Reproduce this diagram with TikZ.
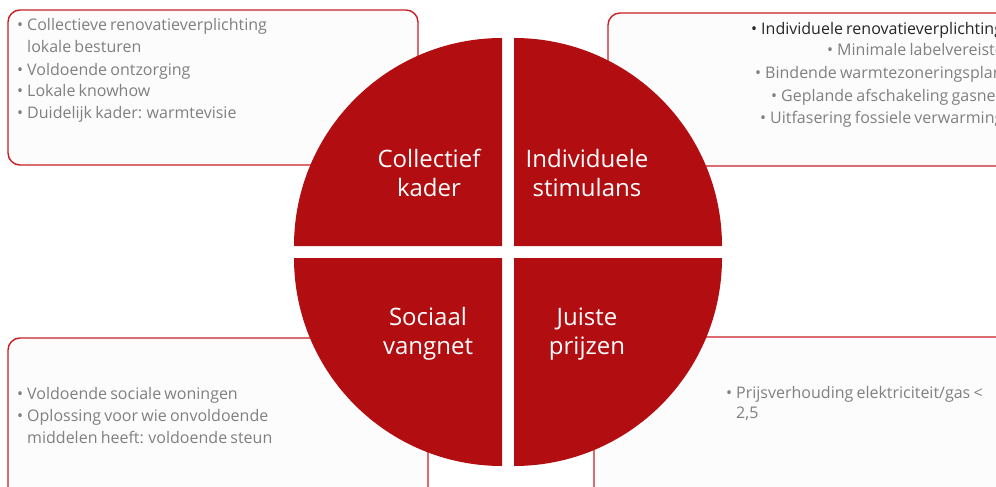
\documentclass[tikz,border=0pt]{standalone}
\usepackage{fontspec}
\setmainfont{Open Sans}
\definecolor{quadred}{RGB}{178,14,17}
\definecolor{boxred}{RGB}{200,30,36}
\definecolor{txtgray}{RGB}{128,128,128}
\definecolor{boxfill}{RGB}{252,252,252}
\newcommand\tightsp{\spaceskip=0.2em\relax}
\begin{document}
\begin{tikzpicture}[x=1pt,y=-1pt,
  infobox/.style={draw=boxred,line width=1.4pt,fill=boxfill,rounded corners=12pt},
  quad/.style={fill=quadred},
  quadlabel/.style={text=white,align=center,font=\fontsize{24}{29}\selectfont,inner sep=0pt},
  listtext/.style={text=txtgray,font=\fontsize{16}{22}\selectfont,inner sep=0pt},
  lineitem/.style={text=txtgray,font=\fontsize{16}{22}\selectfont,inner sep=0pt,anchor=base west}]
\useasboundingbox (0,0) rectangle (996,487);
\clip (0,0) rectangle (996,487);
% boxes
\draw[infobox] (8,10) rectangle (418,165);
\draw[infobox] (608,13) rectangle (1012,166);
\draw[infobox] (8,338) rectangle (428,505);
\draw[infobox] (594,337) rectangle (1012,505);
% top-left list
\node[listtext,anchor=base west] (tl) at (17,31) {\tightsp
  \begin{tabular}[t]{@{}l@{\hspace{4pt}}l@{}}
  \textbullet & Collectieve renovatieverplichting\\
  & lokale besturen\\
  \textbullet & Voldoende ontzorging\\
  \textbullet & Lokale knowhow\\
  \textbullet & Duidelijk kader: warmtevisie
  \end{tabular}};
% top-right lines
\node[lineitem,text=black!85] (tr1) at (751,35) {\tightsp\textbullet\hspace{4pt}Individuele renovatieverplichting};
\node[lineitem] (tr2) at (827,56) {\tightsp\textbullet\hspace{4pt}Minimale labelvereisten};
\node[lineitem] (tr3) at (755,78) {\tightsp\textbullet\hspace{4pt}Bindende warmtezoneringsplannen};
\node[lineitem] (tr4) at (771,101) {\tightsp\textbullet\hspace{4pt}Geplande afschakeling gasnet};
\node[lineitem] (tr5) at (760,123) {\tightsp\textbullet\hspace{4pt}Uitfasering fossiele verwarming};
% bottom-left list
\node[listtext,anchor=base west] (bl) at (17,399) {\tightsp
  \begin{tabular}[t]{@{}l@{\hspace{4pt}}l@{}}
  \textbullet & Voldoende sociale woningen\\
  \textbullet & Oplossing voor wie onvoldoende\\
  & middelen heeft: voldoende steun
  \end{tabular}};
% bottom-right list
\node[listtext,anchor=base west] (br) at (726,398) {%
  \fontsize{16}{20}\selectfont\tightsp
  \begin{tabular}[t]{@{}l@{\hspace{4pt}}l@{}}
  \textbullet & Prijsverhouding elektriciteit/gas <\\
  & 2,5
  \end{tabular}};
% quadrants
\fill[quad] (502,246) -- (294,246) arc[start angle=180,end angle=90,radius=208pt] -- cycle;
\fill[quad] (514,246) -- (514,38) arc[start angle=90,end angle=0,radius=208pt] -- cycle;
\fill[quad] (502,258) -- (294,258) arc[start angle=180,end angle=270,radius=208pt] -- cycle;
\fill[quad] (514,258) -- (514,466) arc[start angle=270,end angle=360,radius=208pt] -- cycle;
% labels
\node[quadlabel] (q1) at (429,173) {Collectief\\kader};
\node[quadlabel] (q2) at (587,173) {Individuele\\stimulans};
\node[quadlabel] (q3) at (428,334) {Sociaal\\vangnet};
\node[quadlabel] (q4) at (587,334) {Juiste\\prijzen};
\end{tikzpicture}
\end{document}
